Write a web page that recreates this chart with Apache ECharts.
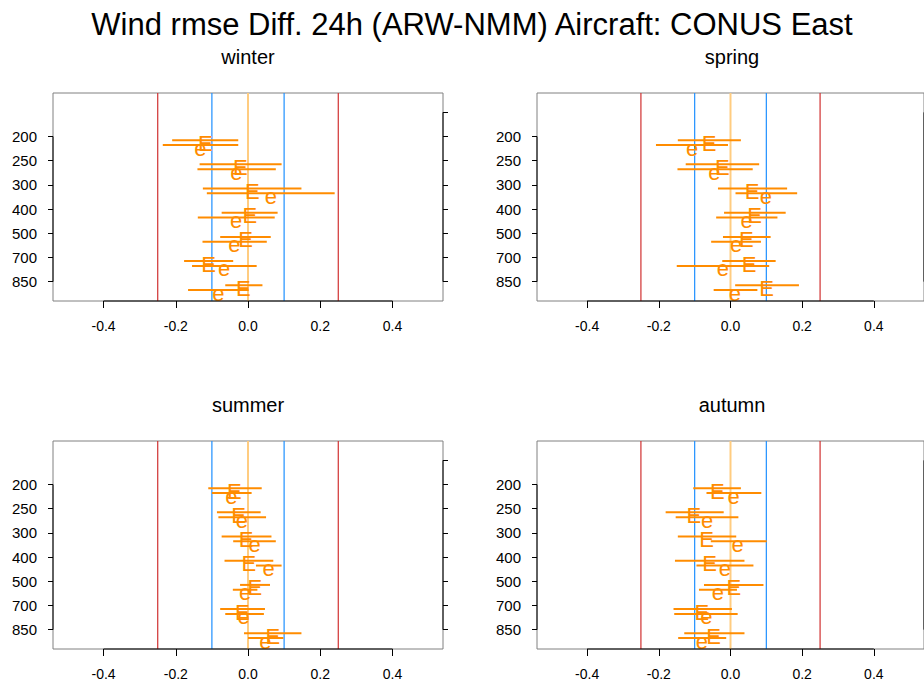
<!DOCTYPE html>
<html>
<head>
<meta charset="utf-8">
<script src="https://cdn.jsdelivr.net/npm/echarts@6/dist/echarts.min.js"></script>
<style>
html,body{margin:0;padding:0;background:#fff;}
#chart{width:924px;height:687px;}
</style>
</head>
<body>
<div id="chart"></div>
<script>
// ---------- data ----------
const mainTitle = 'Wind rmse Diff. 24h (ARW-NMM) Aircraft: CONUS East';
const seasons = ['winter', 'spring', 'summer', 'autumn'];
const levels = ['200', '250', '300', '400', '500', '700', '850'];
const levelPos = [7, 6, 5, 4, 3, 2, 1];
const rightTickPos = [1, 2, 3, 4, 5, 6, 7, 8];
const xTicks = [-0.4, -0.2, 0, 0.2, 0.4];
const redLines = [-0.25, 0.25];
const blueLines = [-0.1, 0.1];
const zeroLine = [0];

// winter
const winterE    = [-0.118, -0.021, 0.012, 0.005, -0.007, -0.109, -0.013];
const winterELo  = [-0.210, -0.134, -0.125, -0.073, -0.077, -0.177, -0.063];
const winterEHi  = [-0.027, 0.093, 0.148, 0.082, 0.063, -0.041, 0.040];
const wintere    = [-0.132, -0.032, 0.063, -0.033, -0.038, -0.066, -0.082];
const winterLo_e = [-0.236, -0.140, -0.114, -0.139, -0.126, -0.155, -0.166];
const winterHi_e = [-0.027, 0.077, 0.240, 0.074, 0.052, 0.024, 0.002];
// spring
const springE    = [-0.060, -0.023, 0.060, 0.067, 0.044, 0.052, 0.101];
const springELo  = [-0.147, -0.125, -0.035, -0.018, -0.021, -0.023, 0.013];
const springEHi  = [0.029, 0.080, 0.158, 0.154, 0.112, 0.126, 0.191];
const springe    = [-0.107, -0.045, 0.099, 0.045, 0.016, -0.021, 0.012];
const springLo_e = [-0.208, -0.148, 0.014, -0.040, -0.054, -0.150, -0.047];
const springHi_e = [-0.007, 0.062, 0.186, 0.131, 0.085, 0.108, 0.075];
// summer
const summerE    = [-0.038, -0.026, -0.005, 0.002, 0.019, -0.016, 0.069];
const summerELo  = [-0.110, -0.086, -0.073, -0.065, -0.022, -0.077, -0.011];
const summerEHi  = [0.038, 0.035, 0.065, 0.070, 0.061, 0.047, 0.148];
const summere    = [-0.046, -0.017, 0.018, 0.057, -0.008, -0.012, 0.048];
const summerLo_e = [-0.100, -0.082, -0.041, 0.022, -0.042, -0.063, 0.000];
const summerHi_e = [0.010, 0.050, 0.077, 0.093, 0.026, 0.044, 0.098];
// autumn
const autumnE    = [-0.037, -0.102, -0.067, -0.058, 0.009, -0.080, -0.047];
const autumnELo  = [-0.104, -0.181, -0.147, -0.155, -0.074, -0.159, -0.129];
const autumnEHi  = [0.029, -0.019, 0.016, 0.039, 0.092, 0.004, 0.039];
const autumne    = [0.009, -0.065, 0.020, -0.016, -0.035, -0.067, -0.080];
const autumnLo_e = [-0.067, -0.153, -0.055, -0.095, -0.088, -0.157, -0.146];
const autumnHi_e = [0.086, 0.022, 0.101, 0.064, 0.018, 0.020, -0.012];

const panels = [
  {E: winterE, ELo: winterELo, EHi: winterEHi, e: wintere, eLo: winterLo_e, eHi: winterHi_e},
  {E: springE, ELo: springELo, EHi: springEHi, e: springe, eLo: springLo_e, eHi: springHi_e},
  {E: summerE, ELo: summerELo, EHi: summerEHi, e: summere, eLo: summerLo_e, eHi: summerHi_e},
  {E: autumnE, ELo: autumnELo, EHi: autumnEHi, e: autumne, eLo: autumnLo_e, eHi: autumnHi_e}
];

// ---------- layout / style ----------
const X_MIN = -0.54, X_MAX = 0.54, Y_MIN = 0.2, Y_MAX = 8.8;
const FONT = "'Liberation Sans', Arial, Helvetica, sans-serif";
const grids = [
  {left: 53, top: 93, width: 390, height: 208},
  {left: 537, top: 93, width: 391, height: 208},
  {left: 53, top: 441, width: 390, height: 208},
  {left: 537, top: 441, width: 391, height: 208}
];
const ORANGE = '#FF8C00';
const OFF_E = 0.15, OFF_e = 0.35;

const chart = echarts.init(document.getElementById('chart'), null, {renderer: 'svg'});

const xAxes = [], yAxes = [], series = [], graphics = [];

grids.forEach((g, gi) => {
  xAxes.push({
    gridIndex: gi, type: 'value', min: X_MIN, max: X_MAX, position: 'bottom',
    splitLine: {show: false},
    axisLine: {show: false, onZero: false},
    axisTick: {show: true, customValues: xTicks, length: 7, lineStyle: {color: '#000', width: 1}},
    axisLabel: {show: true, customValues: xTicks, margin: 18, color: '#000',
      fontFamily: FONT, fontSize: 14, formatter: v => v.toFixed(1)}
  });
  yAxes.push({
    gridIndex: gi, type: 'value', min: Y_MIN, max: Y_MAX, position: 'left',
    splitLine: {show: false}, axisLine: {show: false, onZero: false},
    axisTick: {show: true, customValues: levelPos, length: 5, lineStyle: {color: '#000'}},
    axisLabel: {show: true, customValues: levelPos, margin: 16, color: '#000',
      fontFamily: FONT, fontSize: 15, formatter: v => levels[levelPos.indexOf(Math.round(v))]}
  });
  yAxes.push({
    gridIndex: gi, type: 'value', min: Y_MIN, max: Y_MAX, position: 'right',
    splitLine: {show: false}, axisLine: {show: false, onZero: false},
    axisTick: {show: true, customValues: rightTickPos, length: 5, lineStyle: {color: '#000'}},
    axisLabel: {show: false}
  });

  // reference lines
  const refDefs = [
    {vals: redLines, color: '#D03030', w: 1.2},
    {vals: blueLines, color: '#1E90FF', w: 1.2},
    {vals: zeroLine, color: '#FFCC80', w: 2}
  ];
  refDefs.forEach(rd => {
    series.push({
      type: 'custom', xAxisIndex: gi, yAxisIndex: gi * 2, silent: true, z: 2,
      data: rd.vals.map(v => [v]), encode: {x: 0},
      renderItem: (params, api) => {
        const v = api.value(0);
        const a = api.coord([v, Y_MIN]), b = api.coord([v, Y_MAX]);
        return {type: 'line', shape: {x1: a[0], y1: a[1], x2: b[0], y2: b[1]},
          style: {stroke: rd.color, lineWidth: rd.w}};
      }
    });
  });

  // axis line segments (black, from first to last tick)
  series.push({
    type: 'custom', xAxisIndex: gi, yAxisIndex: gi * 2, silent: true, z: 6,
    data: [[0]], encode: {x: 0},
    renderItem: (params, api) => {
      const b1 = api.coord([xTicks[0], Y_MIN]), b2 = api.coord([xTicks[xTicks.length - 1], Y_MIN]);
      const l1 = api.coord([X_MIN, levelPos[levelPos.length - 1]]), l2 = api.coord([X_MIN, levelPos[0]]);
      const r1 = api.coord([X_MAX, rightTickPos[0]]), r2 = api.coord([X_MAX, rightTickPos[rightTickPos.length - 1]]);
      const st = {stroke: '#000', lineWidth: 1};
      return {type: 'group', children: [
        {type: 'line', shape: {x1: b1[0], y1: b1[1], x2: b2[0], y2: b2[1]}, style: st},
        {type: 'line', shape: {x1: l1[0], y1: l1[1], x2: l2[0], y2: l2[1]}, style: st},
        {type: 'line', shape: {x1: r1[0], y1: r1[1], x2: r2[0], y2: r2[1]}, style: st}
      ]};
    }
  });

  // error bars with letters
  const p = panels[gi];
  const mk = (letter, c, lo, hi, off) => ({
    type: 'custom', name: letter, xAxisIndex: gi, yAxisIndex: gi * 2, z: 5, silent: true,
    data: levelPos.map((pos, i) => [pos - off, lo[i], hi[i], c[i]]),
    encode: {x: [1, 2, 3], y: 0},
    renderItem: (params, api) => {
      const y = api.value(0);
      const a = api.coord([api.value(1), y]), b = api.coord([api.value(2), y]);
      const m = api.coord([api.value(3), y]);
      return {type: 'group', children: [
        {type: 'line', shape: {x1: a[0], y1: a[1], x2: b[0], y2: b[1]},
          style: {stroke: ORANGE, lineWidth: 2}},
        {type: 'text', x: m[0], y: m[1] + 3,
          style: {text: letter, fill: ORANGE, font: '22px ' + FONT, align: 'center', verticalAlign: 'middle'}}
      ]};
    }
  });
  series.push(mk('E', p.E, p.ELo, p.EHi, OFF_E));
  series.push(mk('e', p.e, p.eLo, p.eHi, OFF_e));

  graphics.push({
    type: 'text', x: g.left + 195, y: g.top - 36,
    style: {text: seasons[gi], font: '20px ' + FONT, fill: '#000', align: 'center', verticalAlign: 'middle'}
  });
});

graphics.push({
  type: 'text', x: 472, y: 24,
  style: {text: mainTitle, font: '31px ' + FONT, fill: '#000', align: 'center', verticalAlign: 'middle'}
});

chart.setOption({
  animation: false,
  backgroundColor: '#fff',
  grid: grids.map(g => Object.assign({show: true, borderColor: '#808080', borderWidth: 1, backgroundColor: 'transparent'}, g)),
  xAxis: xAxes,
  yAxis: yAxes,
  series: series,
  graphic: graphics
});
</script>
</body>
</html>
